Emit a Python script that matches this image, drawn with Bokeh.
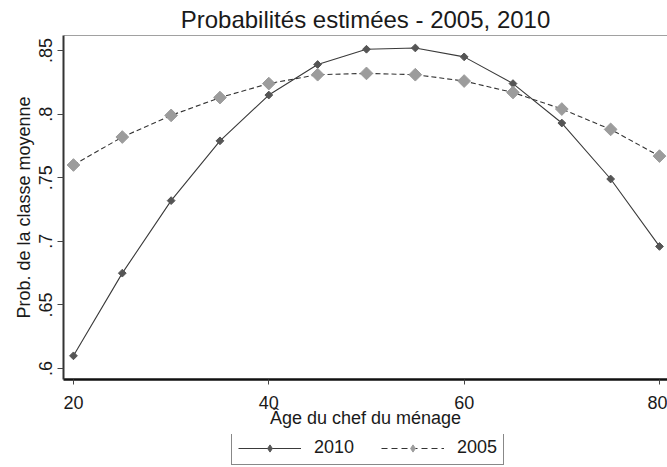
from bokeh.plotting import figure
from bokeh.models import Range1d, Legend, LegendItem, FixedTicker, Span
from bokeh.layouts import column
from bokeh.embed import file_html
from bokeh.resources import INLINE

# ---- data ----
ages = [20, 25, 30, 35, 40, 45, 50, 55, 60, 65, 70, 75, 80]
prob_2010 = [0.610, 0.675, 0.732, 0.779, 0.815, 0.839, 0.851, 0.852, 0.845, 0.824, 0.793, 0.749, 0.696]
prob_2005 = [0.760, 0.782, 0.799, 0.813, 0.824, 0.831, 0.832, 0.831, 0.826, 0.817, 0.804, 0.788, 0.767]
x_ticks = [20, 40, 60, 80]
y_ticks = [0.6, 0.65, 0.7, 0.75, 0.8, 0.85]
y_tick_labels = [".6", ".65", ".7", ".75", ".8", ".85"]
series_labels = ["2010", "2005"]

FONT = "Liberation Sans"
TXT = "#1a1a1a"
C10_LINE, C10_MARK = "#3a3a3a", "#555555"
C05_LINE, C05_MARK = "#333333", "#9c9c9c"

p = figure(width=667, height=434, output_backend="svg", toolbar_location=None,
           x_range=Range1d(18.98, 80.82), y_range=Range1d(0.5914, 0.8618),
           title="Probabilités estimées - 2005, 2010",
           x_axis_label="Âge du chef du ménage",
           y_axis_label="Prob. de la classe moyenne",
           min_border_left=63, min_border_right=0, min_border_top=35, min_border_bottom=55)

p.background_fill_color = "white"
p.border_fill_color = "white"
p.outline_line_color = None
p.xgrid.visible = False
p.ygrid.visible = False

p.title.text_font = FONT
p.title.text_font_size = "24px"
p.title.text_font_style = "normal"
p.title.text_color = TXT
p.title.align = "center"
p.title.standoff = 5

# axes
xa = p.xaxis[0]
xa.ticker = FixedTicker(ticks=x_ticks)
xa.minor_tick_line_color = None
xa.major_tick_in = 0
xa.major_tick_out = 5
xa.major_tick_line_color = "#444444"
xa.axis_line_color = "#111111"
xa.axis_line_width = 2.5
xa.major_label_text_font = FONT
xa.major_label_text_font_size = "18px"
xa.major_label_text_color = TXT
xa.major_label_standoff = 11
xa.axis_label_text_font = FONT
xa.axis_label_text_font_size = "18px"
xa.axis_label_text_font_style = "normal"
xa.axis_label_text_color = TXT
xa.axis_label_standoff = -4

ya = p.yaxis[0]
ya.ticker = FixedTicker(ticks=y_ticks)
ya.major_label_overrides = {t: s for t, s in zip(y_ticks, y_tick_labels)}
ya.major_label_orientation = "vertical"
ya.minor_tick_line_color = None
ya.major_tick_in = 0
ya.major_tick_out = 6
ya.major_tick_line_color = "#444444"
ya.axis_line_color = "#333333"
ya.axis_line_width = 2
ya.major_label_text_font = FONT
ya.major_label_text_font_size = "18px"
ya.major_label_text_color = TXT
ya.major_label_standoff = 5
ya.axis_label_text_font = FONT
ya.axis_label_text_font_size = "18px"
ya.axis_label_text_font_style = "normal"
ya.axis_label_text_color = TXT
ya.axis_label_standoff = 3

# top border of the plot region
p.add_layout(Span(location=0.8618, dimension="width", line_color="#444444", line_width=1.2))

# series
p.line(ages, prob_2010, line_color=C10_LINE, line_width=1.1)
p.scatter(ages, prob_2010, marker="square", angle=0.785398, size=5.5,
          fill_color=C10_MARK, line_color=C10_MARK)
p.line(ages, prob_2005, line_color=C05_LINE, line_width=1.1, line_dash="5 3")
p.scatter(ages, prob_2005, marker="square", angle=0.785398, size=9,
          fill_color=C05_MARK, line_color=C05_MARK)

# legend strip below (separate figure so the legend is not clipped)
q = figure(width=667, height=33, output_backend="svg", toolbar_location=None,
           x_range=Range1d(0, 1), y_range=Range1d(0, 1),
           x_axis_location=None, y_axis_location=None,
           min_border=0, min_border_left=0, min_border_right=0,
           min_border_top=0, min_border_bottom=0)
q.xgrid.visible = False
q.ygrid.visible = False
q.outline_line_color = None
q.background_fill_color = "white"
q.border_fill_color = "white"
off = [5.0]
g10l = q.line(off, off, line_color=C10_LINE, line_width=1.1)
g10m = q.scatter(off, off, marker="diamond", size=8,
                 fill_color=C10_MARK, line_color=C10_MARK)
g05l = q.line(off, off, line_color=C05_LINE, line_width=1.1, line_dash="6 4")
g05m = q.scatter(off, off, marker="diamond", size=12,
                 fill_color=C05_MARK, line_color=C05_MARK)

# the column aligns this strip's frame with the chart frame (x = 63 on the page)
legend = Legend(items=[LegendItem(label=series_labels[0], renderers=[g10l, g10m]),
                       LegendItem(label=series_labels[1], renderers=[g05l, g05m])],
                orientation="horizontal", location=(168, 2))
legend.border_line_color = "#111111"
legend.border_line_width = 1
legend.background_fill_color = "white"
legend.label_text_font = FONT
legend.label_text_font_size = "18px"
legend.label_text_color = TXT
legend.label_height = 18
legend.glyph_width = 63
legend.glyph_height = 18
legend.label_standoff = 13
legend.spacing = 27
legend.padding = 6
legend.margin = 0
q.add_layout(legend, "center")

layout = column(p, q, spacing=0)
open("out.html", "w").write(file_html(layout, INLINE))
